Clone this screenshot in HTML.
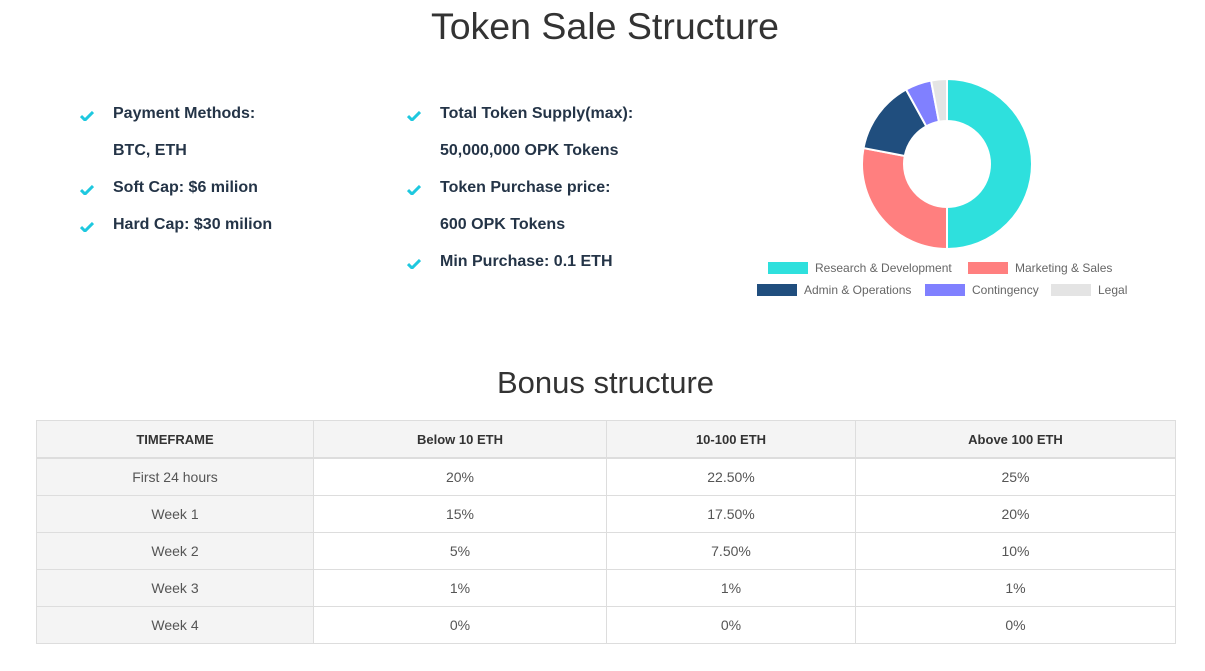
<!DOCTYPE html>
<html><head><meta charset="utf-8"><style>
body{margin:0;width:1205px;height:671px;background:#fff;font-family:"Liberation Sans",sans-serif;position:relative;overflow:hidden}
.abs{position:absolute}
h1{position:absolute;left:0;width:1210px;top:5px;margin:0;text-align:center;font-weight:normal;font-size:37.5px;color:#333}
h2{position:absolute;left:0;width:1211px;top:365px;margin:0;text-align:center;font-weight:normal;font-size:31px;color:#333}
.item{position:absolute;font-size:16px;font-weight:bold;color:#243447;white-space:nowrap}
.chk{position:absolute;width:14px;height:10px}
table{position:absolute;left:36px;top:420px;width:1140px;border-collapse:collapse;font-size:14px;color:#555}
td,th{border:1px solid #ddd;text-align:center;height:36px;padding:0}
th{background:#f4f4f4;color:#333;font-size:13px;border-bottom:2px solid #ddd}
td.f{background:#f4f4f4}
.leg{position:absolute;font-size:12px;color:#666;white-space:nowrap}
.sw{position:absolute;width:40px;height:12px}
</style></head><body>
<h1>Token Sale Structure</h1>

<div id="items"></div>

<svg class="abs" style="left:0;top:0" width="1205" height="340"><g id="donut"></g></svg>
<div id="legend"></div>

<h2>Bonus structure</h2>
<table>
<tr><th style="width:276px">TIMEFRAME</th><th style="width:292px">Below 10 ETH</th><th style="width:248px">10-100 ETH</th><th>Above 100 ETH</th></tr>
<tr><td class="f">First 24 hours</td><td>20%</td><td>22.50%</td><td>25%</td></tr>
<tr><td class="f">Week 1</td><td>15%</td><td>17.50%</td><td>20%</td></tr>
<tr><td class="f">Week 2</td><td>5%</td><td>7.50%</td><td>10%</td></tr>
<tr><td class="f">Week 3</td><td>1%</td><td>1%</td><td>1%</td></tr>
<tr><td class="f">Week 4</td><td>0%</td><td>0%</td><td>0%</td></tr>
</table>

<script>
const sliceLabels=["Research & Development","Marketing & Sales","Admin & Operations","Contingency","Legal"];
const sliceValues=[50,28,14,5,3];
const sliceColors=["#2ee0dd","#ff7f7f","#204e7e","#8080ff","#e4e4e4"];

const items=[
 [113,112,"Payment Methods:",true],[113,149,"BTC, ETH",false],[113,186,"Soft Cap: $6 milion",true],[113,223,"Hard Cap: $30 milion",true],
 [440,112,"Total Token Supply(max):",true],[440,149,"50,000,000 OPK Tokens",false],[440,186,"Token Purchase price:",true],[440,223,"600 OPK Tokens",false],[440,260,"Min Purchase: 0.1 ETH",true]];
const ic=document.getElementById('items');
items.forEach(it=>{
 const d=document.createElement('div');d.className='item';d.style.left=it[0]+'px';d.style.top=(it[1]-7)+'px';d.textContent=it[2];
 
 
 ic.appendChild(d);
 if(it[3]){const s=document.createElementNS('http://www.w3.org/2000/svg','svg');s.setAttribute('class','chk');s.style.left=(it[0]-33)+'px';s.style.top=(it[1]-1)+'px';s.setAttribute('viewBox','0 0 14 10');
 s.innerHTML='<path d="M1 5 L5 9 L13 1" stroke="#1ec8df" stroke-width="3" fill="none"/>';
 
 
 ic.appendChild(s);}
});

const cx=947,cy=164,R=85,r=43;
const g=document.getElementById('donut');
const total=sliceValues.reduce((a,b)=>a+b,0);
let a0=0;
function pt(rad,a){return [cx+rad*Math.sin(a),cy-rad*Math.cos(a)];}
sliceValues.forEach((v,i)=>{
 const a1=a0+v/total*2*Math.PI;const lg=(a1-a0)>Math.PI?1:0;
 const p1=pt(R,a0),p2=pt(R,a1),p3=pt(r,a1),p4=pt(r,a0);
 const p=document.createElementNS('http://www.w3.org/2000/svg','path');
 p.setAttribute('d',`M${p1} A${R},${R} 0 ${lg} 1 ${p2} L${p3} A${r},${r} 0 ${lg} 0 ${p4} Z`);
 p.setAttribute('fill',sliceColors[i]);p.setAttribute('stroke','#fff');p.setAttribute('stroke-width','2');
 
 
 g.appendChild(p);a0=a1;
});
const legPos=[[768,268],[968,268],[757,290],[925,290],[1051,290]];
const lc=document.getElementById('legend');
sliceLabels.forEach((l,i)=>{
 const s=document.createElement('div');s.className='sw';s.style.left=legPos[i][0]+'px';s.style.top=(legPos[i][1]-6)+'px';s.style.background=sliceColors[i];
 
 
 lc.appendChild(s);
 const t=document.createElement('div');t.className='leg';t.style.left=(legPos[i][0]+47)+'px';t.style.top=(legPos[i][1]-7)+'px';t.textContent=l;
 
 
 lc.appendChild(t);
});
</script>
</body></html>
